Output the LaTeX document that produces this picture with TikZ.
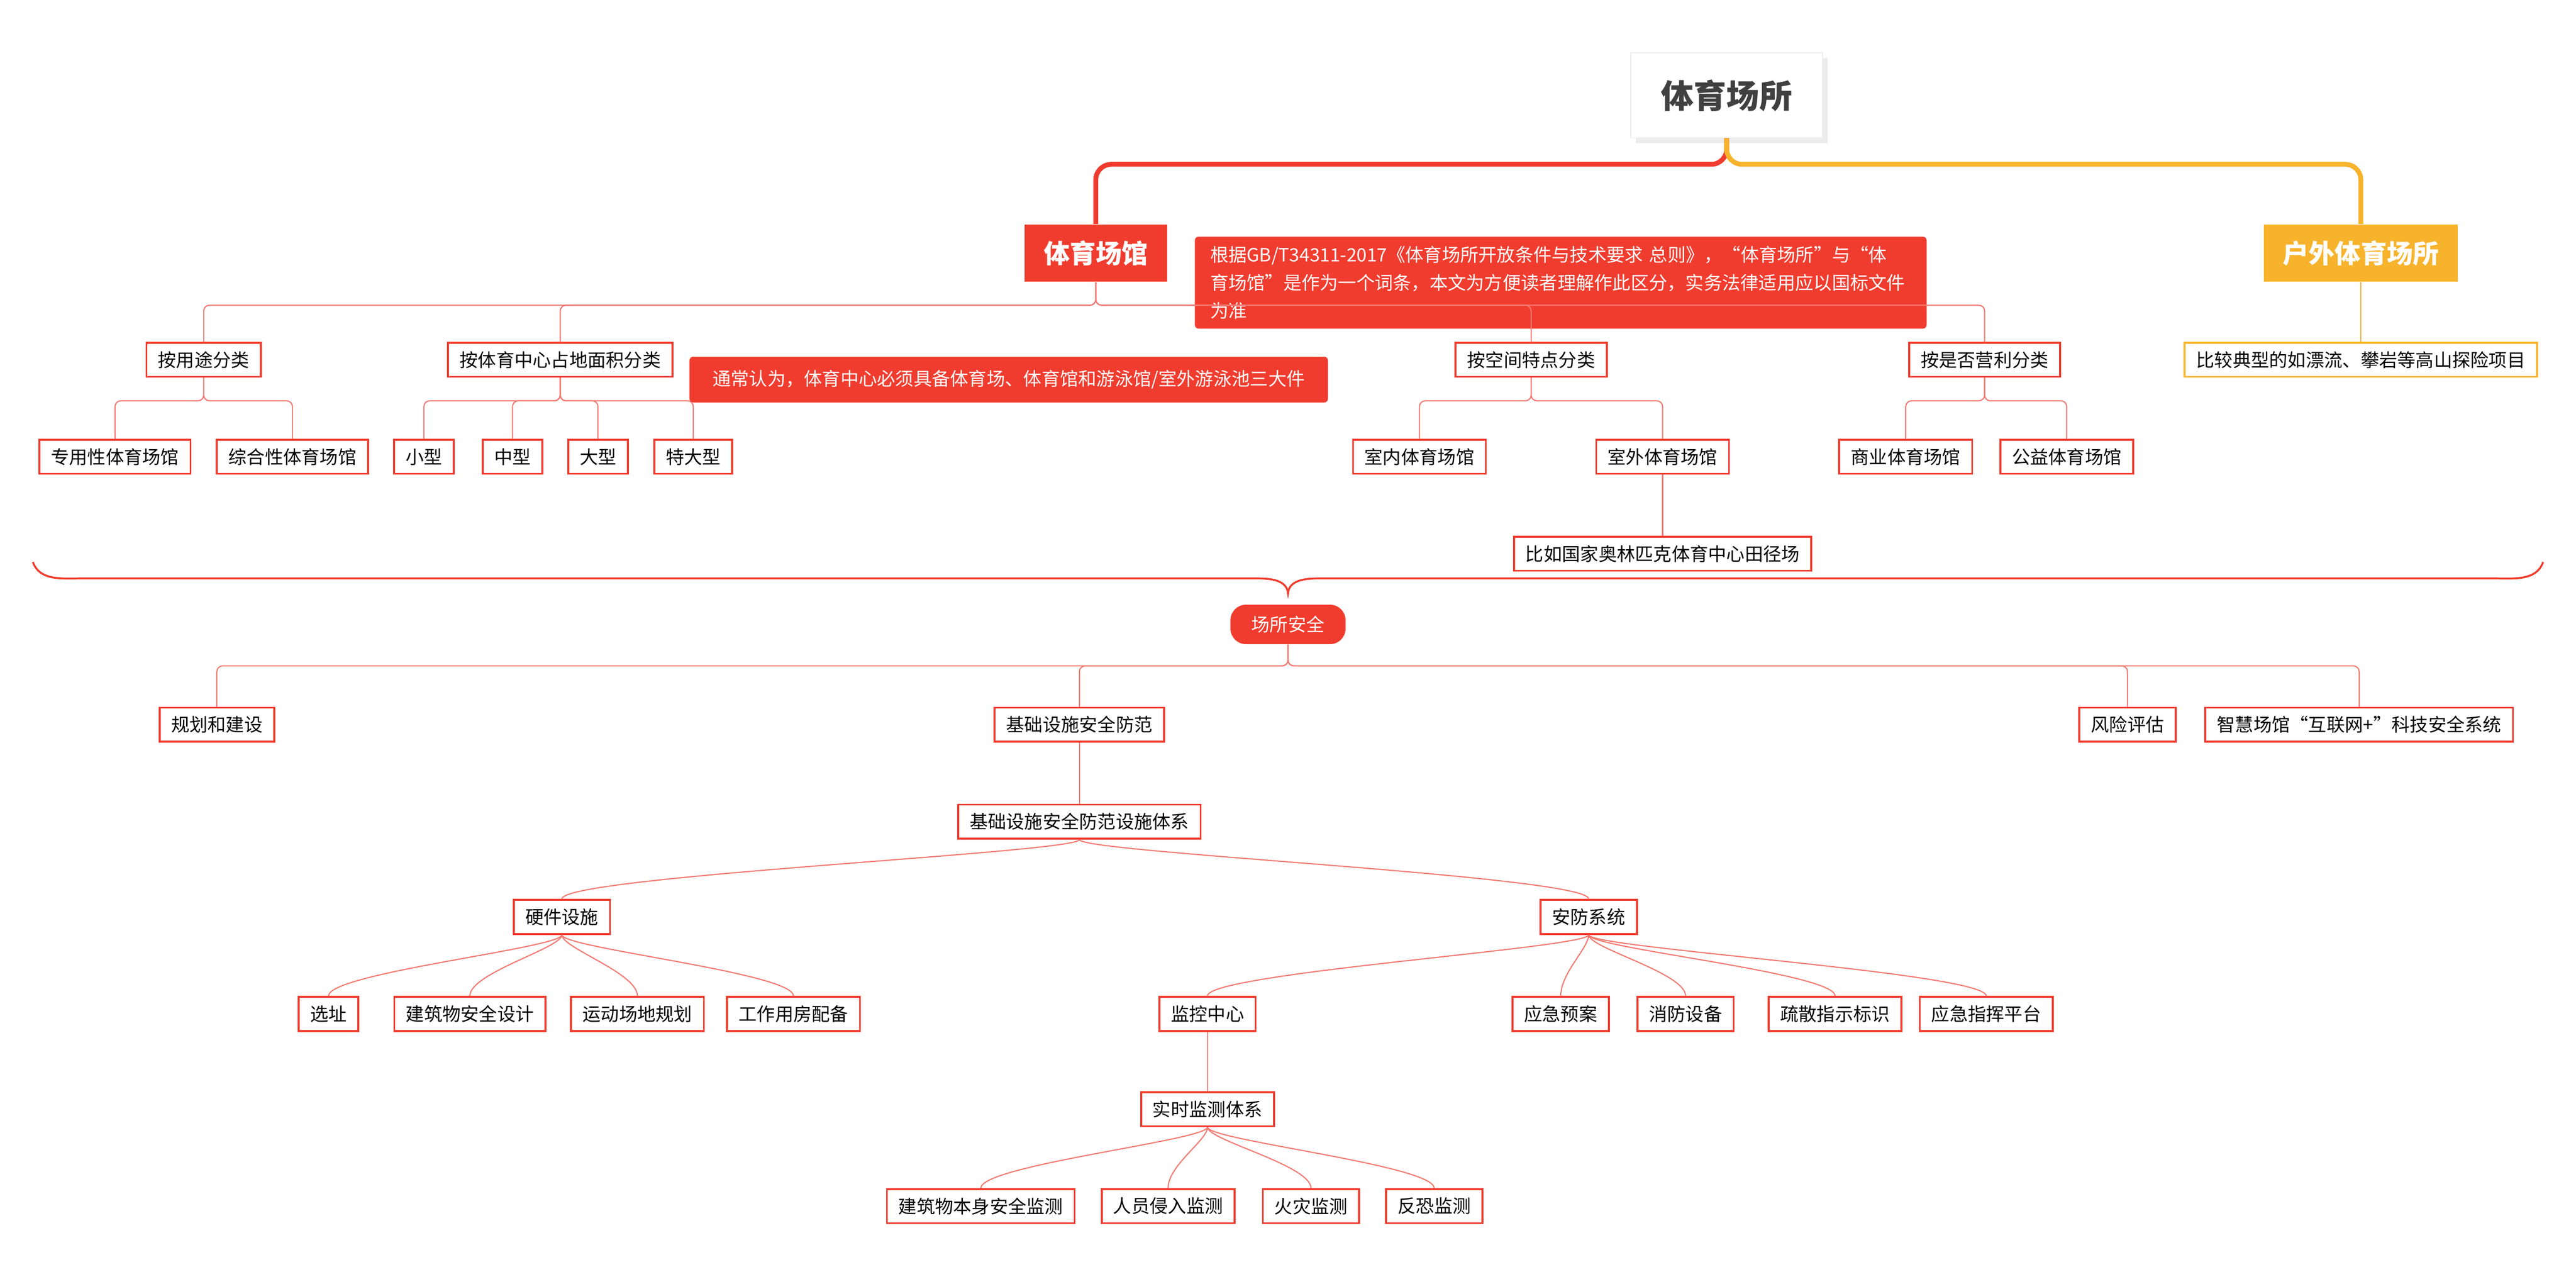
\documentclass[tikz,border=0pt]{standalone}
\usepackage{fontspec}
\setmainfont{Noto Sans CJK SC}
\XeTeXlinebreaklocale "zh"
\XeTeXlinebreakskip = 0pt plus 1pt
\usetikzlibrary{positioning,calc,shadows}
\definecolor{mred}{HTML}{F03C2E}
\definecolor{morange}{HTML}{F7B32B}
\definecolor{lred}{HTML}{F27A72}
\tikzset{
  leaf/.style={draw=mred,line width=1pt,fill=white,inner xsep=6pt,inner ysep=3pt,minimum height=0.62cm,font=\fontsize{9.5}{11}\selectfont},
  oleaf/.style={leaf,draw=morange},
  main/.style={fill=mred,text=white,font=\fontsize{13.5}{15}\selectfont\bfseries,minimum height=1.05cm,inner xsep=10pt},
  note/.style={fill=mred,text=white,rounded corners=2pt,font=\fontsize{9.5}{14.5}\selectfont,inner xsep=7pt,inner ysep=5pt},
  elbow/.style={draw=lred,line width=0.6pt,rounded corners=3pt},
  curvy/.style={draw=lred,line width=0.6pt},
}
\begin{document}
\begin{tikzpicture}[x=0.03cm,y=-0.03cm]
  \useasboundingbox (0,0) rectangle (1568,771);
  % root
  \node[fill=white,draw=gray!15,drop shadow={opacity=0.15},minimum width=3.5cm,minimum height=1.55cm,font=\fontsize{17}{20}\selectfont\bfseries,text=black!75] (root) at (1051,58) {体育场所};
  \node[main] (hall) at (667,154) {体育场馆};
  \node[main,fill=morange] (out) at (1437,154) {户外体育场所};
  \draw[mred,line width=2.5pt,rounded corners=8pt] (root.south) -- (1051,100) -- (667,100) -- (hall.north);
  \draw[morange,line width=2.5pt,rounded corners=8pt] (root.south) -- (1051,100) -- (1437,100) -- (out.north);
  \node[note,text width=12.8cm,inner xsep=8pt,align=left] (n1) at (950,172) {根据GB/T34311-2017《体育场所开放条件与技术要求 总则》，“体育场所”与“体\\育场馆”是作为一个词条，本文为方便读者理解作此区分，实务法律适用应以国标文件\\为准};

  % classification
  \node[leaf] (use) at (124,219) {按用途分类};
  \node[leaf] (area) at (341,219) {按体育中心占地面积分类};
  \node[leaf] (space) at (932,219) {按空间特点分类};
  \node[leaf] (profit) at (1208,219) {按是否营利分类};
  \node[note,inner ysep=7pt,inner xsep=12pt] (n2) at (614,231) {通常认为，体育中心必须具备体育场、体育馆和游泳馆/室外游泳池三大件};
  \begin{scope}[on background layer/.try]
  \foreach \c in {use,area,space,profit}
    \draw[elbow] (hall.south) -- ++(0,14) -| (\c.north);
  \end{scope}
  \node[oleaf] (adv) at (1437,219) {比较典型的如漂流、攀岩等高山探险项目};
  \draw[morange,line width=0.6pt] (out.south) -- (adv.north);

  \node[leaf] (u1) at (70,278) {专用性体育场馆};
  \node[leaf] (u2) at (178,278) {综合性体育场馆};
  \node[leaf] (a1) at (258,278) {小型};
  \node[leaf] (a2) at (312,278) {中型};
  \node[leaf] (a3) at (364,278) {大型};
  \node[leaf] (a4) at (422,278) {特大型};
  \node[leaf] (s1) at (864,278) {室内体育场馆};
  \node[leaf] (s2) at (1012,278) {室外体育场馆};
  \node[leaf] (s3) at (1012,337) {比如国家奥林匹克体育中心田径场};
  \node[leaf] (p1) at (1160,278) {商业体育场馆};
  \node[leaf] (p2) at (1258,278) {公益体育场馆};
  \foreach \p/\c in {use/u1,use/u2,area/a1,area/a2,area/a3,area/a4,space/s1,space/s2,profit/p1,profit/p2}
    \draw[elbow] (\p.south) -- ++(0,14) -| (\c.north);
  \draw[elbow] (s2.south) -- (s3.north);

  % brace
  \draw[mred,line width=1pt] (20,342) to[out=-70,in=180] (50,352) -- (765,352)
    to[out=0,in=95] (784,361) to[out=85,in=180] (803,352) -- (1518,352) to[out=0,in=-110] (1548,342);

  % safety
  \node[fill=mred,text=white,rounded corners=8pt,minimum width=2.1cm,minimum height=0.72cm,font=\fontsize{9.5}{11}\selectfont] (safe) at (784,380) {场所安全};
  \node[leaf] (plan) at (132,441) {规划和建设};
  \node[leaf] (infra) at (657,441) {基础设施安全防范};
  \node[leaf] (risk) at (1295,441) {风险评估};
  \node[leaf] (smart) at (1436,441) {智慧场馆“互联网+”科技安全系统};
  \foreach \c in {plan,infra,risk,smart}
    \draw[elbow] (safe.south) -- ++(0,13) -| (\c.north);
  \node[leaf] (sys) at (657,500) {基础设施安全防范设施体系};
  \draw[curvy] (infra.south) -- (sys.north);

  \node[leaf] (hard) at (342,558) {硬件设施};
  \node[leaf] (sec) at (967,558) {安防系统};
  \node[leaf] (h1) at (200,617) {选址};
  \node[leaf] (h2) at (286,617) {建筑物安全设计};
  \node[leaf] (h3) at (388,617) {运动场地规划};
  \node[leaf] (h4) at (483,617) {工作用房配备};
  \node[leaf] (c1) at (735,617) {监控中心};
  \node[leaf] (c2) at (950,617) {应急预案};
  \node[leaf] (c3) at (1026,617) {消防设备};
  \node[leaf] (c4) at (1117,617) {疏散指示标识};
  \node[leaf] (c5) at (1209,617) {应急指挥平台};
  \node[leaf] (mon) at (735,675) {实时监测体系};
  \node[leaf] (m1) at (597,734) {建筑物本身安全监测};
  \node[leaf] (m2) at (711,734) {人员侵入监测};
  \node[leaf] (m3) at (798,734) {火灾监测};
  \node[leaf] (m4) at (873,734) {反恐监测};
  \foreach \p/\c in {sys/hard,sys/sec,hard/h1,hard/h2,hard/h3,hard/h4,sec/c1,sec/c2,sec/c3,sec/c4,sec/c5,mon/m1,mon/m2,mon/m3,mon/m4}
    \draw[curvy] (\p.south) .. controls ($(\p.south)+(0,8)$) and ($(\c.north)+(0,-14)$) .. (\c.north);
  \draw[curvy] (c1.south) -- (mon.north);
\end{tikzpicture}
\end{document}
